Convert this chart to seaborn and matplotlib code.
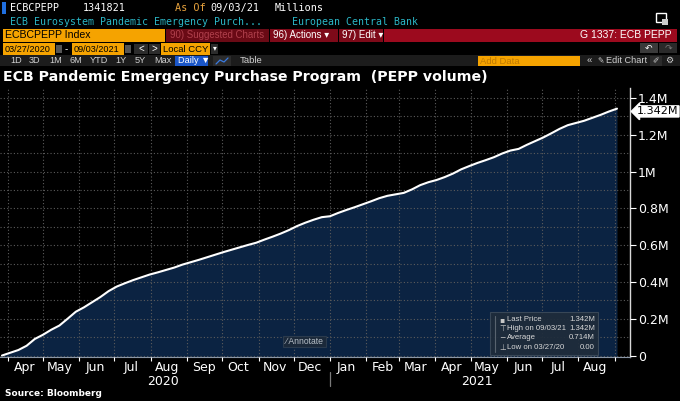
import numpy as np
import pandas as pd
import matplotlib
matplotlib.use("Agg")
import matplotlib.pyplot as plt
import matplotlib.dates as mdates
import matplotlib.transforms as mtransforms
from matplotlib.patches import Rectangle
from matplotlib.ticker import MultipleLocator, NullFormatter
import seaborn as sns

# ---------------------------------------------------------------------------
#  data : weekly PEPP holdings (EUR millions), Fridays 27/03/2020 -> 03/09/2021
# ---------------------------------------------------------------------------
start_date = "2020-03-27"
end_date = "2021-09-03"
pepp_volume = [
    0, 15000, 30000, 53000, 90000, 113000, 140000, 163000, 200000, 238000,
    262000, 290000, 318000, 350000, 375000, 393000, 410000, 425000, 440000, 452000,
    465000, 478000, 494000, 507000, 520000, 534000, 548000, 562000, 575000, 588000,
    601000, 613000, 630000, 646000, 663000, 682000, 704000, 722000, 738000, 752000,
    757000, 775000, 791000, 806000, 822000, 838000, 855000, 868000, 876000, 884000,
    903000, 926000, 942000, 954000, 970000, 989000, 1012000, 1030000, 1047000, 1062000,
    1078000, 1098000, 1114000, 1123000, 1145000, 1165000, 1185000, 1208000, 1232000, 1252000,
    1264000, 1276000, 1292000, 1308000, 1326000, 1341821,
]
y_ticks = [0, 200000, 400000, 600000, 800000, 1000000, 1200000, 1400000]
y_labels = ["0", "0.2M", "0.4M", "0.6M", "0.8M", "1M", "1.2M", "1.4M"]
year_labels = ["2020", "2021"]
last_label = "1.342M"
legend_names = ["Last Price", "High on 09/03/21", "Average", "Low on 03/27/20"]
legend_values = ["1.342M", "1.342M", "0.714M", "0.00"]
legend_marks = ["\u25aa", "\u22a4", "\u2212", "\u22a5"]

dates = pd.date_range(start_date, end_date, freq="W-FRI")
df = pd.DataFrame({"date": dates, "pepp": pepp_volume})

NAVY = "#0b2342"
ORANGE = "#f5a300"
RED = "#9c0a1e"
NARROW = ["Liberation Sans Narrow", "Liberation Sans", "DejaVu Sans"]
MONO = ["DejaVu Sans Mono"]

sns.set_theme(style="dark", rc={"axes.facecolor": "black", "figure.facecolor": "black"})
plt.rcParams["font.family"] = ["DejaVu Sans"]

fig = plt.figure(figsize=(6.8, 4.01), dpi=100)

# ---------------------------------------------------------------------------
#  main chart
# ---------------------------------------------------------------------------
ax = fig.add_axes([0.0, 44 / 401, 630 / 680, 269 / 401])
ax.set_facecolor("black")
ymin, ymax = -8000, 1454000
ax.fill_between(df["date"], df["pepp"], ymin, color=NAVY, lw=0, zorder=1)
sns.lineplot(data=df, x="date", y="pepp", ax=ax, color="white", lw=1.5, zorder=3)

x0 = mdates.date2num(pd.Timestamp(start_date)) - 1.7
x1 = mdates.date2num(pd.Timestamp(end_date)) + 11.1
ax.set_xlim(x0, x1)
ax.set_ylim(ymin, ymax)
ax.set_xlabel("")
ax.set_ylabel("")

# y axis on the right
ax.yaxis.tick_right()
ax.set_yticks(y_ticks)
ax.set_yticklabels(y_labels)
ax.yaxis.set_minor_locator(MultipleLocator(100000))
ax.tick_params(axis="y", which="major", colors="white", length=4, width=0.8,
               labelsize=9, pad=1.5, direction="out", right=True, left=False)
ax.tick_params(axis="y", which="minor", length=0)

# x axis: ticks at month starts, labels mid month
ax.xaxis.set_major_locator(mdates.MonthLocator())
ax.xaxis.set_major_formatter(NullFormatter())
ax.xaxis.set_minor_locator(mdates.MonthLocator(bymonthday=15))
ax.xaxis.set_minor_formatter(mdates.DateFormatter("%b"))
ax.tick_params(axis="x", which="major", colors="white", length=3, width=0.8, bottom=True)
ax.tick_params(axis="x", which="minor", length=0, labelsize=9, labelcolor="white", pad=3)

ax.grid(True, which="both", axis="y", color="#5c5c5c", ls=(0, (1, 2)), lw=0.8, zorder=2)
ax.grid(True, which="major", axis="x", color="#5c5c5c", ls=(0, (1, 2)), lw=0.8, zorder=2)
ax.set_axisbelow(False)

for side in ["left", "top"]:
    ax.spines[side].set_visible(False)
ax.spines["right"].set_color("#d8d8d8")
ax.spines["right"].set_linewidth(1.0)
ax.spines["bottom"].set_color("#8a96a6")
ax.spines["bottom"].set_linewidth(0.8)

# year labels + separator
trans = mtransforms.blended_transform_factory(ax.transData, ax.transAxes)
jan1 = mdates.date2num(pd.Timestamp("2021-01-01"))
ax.text((x0 + jan1) / 2 - 2, -0.09, year_labels[0], transform=trans, color="white",
        fontsize=9, ha="center", va="center")
ax.text((jan1 + x1) / 2 - 3, -0.09, year_labels[1], transform=trans, color="white",
        fontsize=9, ha="center", va="center")
ax.plot([jan1, jan1], [-0.055, -0.108], transform=trans, color="#7a7a7a", lw=0.9, clip_on=False)

# last value tag
ax.annotate(last_label, xy=(1.0, df["pepp"].iloc[-1]), xycoords=("axes fraction", "data"),
            xytext=(5, -2), textcoords="offset points", va="center", ha="left",
            fontsize=8, color="black", annotation_clip=False,
            bbox=dict(boxstyle="larrow,pad=0.05", fc="white", ec="white"))

# ---------------------------------------------------------------------------
#  overlay in pixel coordinates : terminal header, legend box, footer
# ---------------------------------------------------------------------------
ov = fig.add_axes([0, 0, 1, 1], zorder=5)
ov.set_xlim(0, 680)
ov.set_ylim(401, 0)
ov.axis("off")
ov.patch.set_alpha(0)


def rect(xa, ya, xb, yb, fc, ec="none", alpha=1.0, lw=0.8):
    ov.add_patch(Rectangle((xa, ya), xb - xa, yb - ya, fc=fc, ec=ec, alpha=alpha, lw=lw))


def txt(x, y, s, color="white", size=8, family=None, **kw):
    ov.text(x, y, s, color=color, fontsize=size, va="center",
            family=family if family else NARROW, **kw)


# row 1
rect(2, 2, 6, 14, "#1f6fe0")
txt(10, 8, "ECBCPEPP", size=7.3, family=MONO)
txt(83, 8, "1341821", size=7.3, family=MONO)
txt(175, 8, "As Of", color="#e8a33d", size=7.3, family=MONO)
txt(210, 8, "09/03/21", size=7.3, family=MONO)
txt(275, 8, "Millions", size=7.3, family=MONO)
# row 2
txt(10, 22, "ECB Eurosystem Pandemic Emergency Purch...", color="#2bb8c8", size=7.1, family=MONO)
txt(292, 22, "European Central Bank", color="#2bb8c8", size=7.1, family=MONO)
rect(656, 13, 666, 22, "none", ec="white", lw=1.0)
rect(662, 19, 668, 25, "#cccccc")
# row 3
rect(3, 29, 165, 42, ORANGE)
txt(5, 35.5, "ECBCPEPP Index", color="black", size=7.6)
rect(166, 29, 269, 42, "#6a0a15")
txt(170, 35.5, "90) Suggested Charts", color="#b0404c", size=6.9)
rect(270, 29, 338, 42, "#7e0a19")
txt(273, 35.5, "96) Actions \u25be", size=7)
rect(339, 29, 383, 42, "#7e0a19")
txt(342, 35.5, "97) Edit \u25be", size=7)
rect(384, 29, 677, 42, RED)
txt(671, 35.5, "G 1337: ECB PEPP", size=7.5, ha="right")
# row 4
rect(3, 43, 55, 55, ORANGE)
txt(5, 49, "03/27/2020", color="black", size=6.6)
rect(56, 45, 62, 53, "#555555")
txt(65, 49, "-", size=7)
rect(72, 43, 124, 55, ORANGE)
txt(74, 49, "09/03/2021", color="black", size=6.6)
rect(125, 45, 131, 53, "#555555")
rect(134, 44, 148, 54, "#2c2c2c")
txt(141, 49, "<", size=7, ha="center")
rect(149, 44, 160, 54, "#2c2c2c")
txt(154.5, 49, ">", size=7, ha="center")
rect(161, 43, 210, 55, ORANGE)
txt(163, 49, "Local CCY", color="black", size=6.8)
rect(211, 44, 218, 54, "#2c2c2c")
txt(214.5, 49, "\u25be", size=5.5, ha="center")
rect(640, 43, 658, 53, "#3a3a3a")
txt(649, 48, "\u21b6", size=6.5, ha="center", family=["DejaVu Sans"])
rect(659, 43, 677, 53, "#2a2a2a")
txt(668, 48, "\u21b7", color="#777777", size=6.5, ha="center", family=["DejaVu Sans"])
# row 5
rect(0, 55, 680, 66, "#1c1c1c")
for xp, lab in zip([10, 29, 49, 69, 90, 115, 135, 154],
                   ["1D", "3D", "1M", "6M", "YTD", "1Y", "5Y", "Max"]):
    txt(xp, 60.5, lab, color="#d0d0d0", size=6.6)
rect(175, 56, 208, 66, "#1a56c8")
txt(178, 60.5, "Daily \u25bc", size=6.6)
rect(213, 56, 231, 66, "#2c2c2c")
ov.plot([216, 220, 224, 228], [64, 60, 62, 58], color="#3a7ae0", lw=0.9)
txt(240, 60.5, "Table", color="#d0d0d0", size=6.8)
rect(478, 56, 580, 66, ORANGE)
txt(480, 61, "Add Data", color="#c07a00", size=6.8)
txt(587, 60.5, "\u00ab", color="#d0d0d0", size=6.8)
txt(597, 60.5, "\u270e", color="#d0d0d0", size=5.5, family=["DejaVu Sans"])
txt(606, 60.5, "Edit Chart", color="#d0d0d0", size=6.6)
rect(650, 56, 662, 66, "#2c2c2c")
txt(652, 60.5, "\u2710", color="#d0d0d0", size=5.5, family=["DejaVu Sans"])
txt(665, 60.5, "\u2699", color="#d0d0d0", size=6.5, family=["DejaVu Sans"])

# title
ov.text(3, 77, "ECB Pandemic Emergency Purchase Program  (PEPP volume)", color="white",
        fontsize=10.2, fontweight="bold", va="center", family=["DejaVu Sans"])

# annotate button
rect(283, 336, 326, 347, "#1c2a3a", ec="#2c3c4e", alpha=0.95)
txt(286, 341.5, "\u2215 Annotate", color="#b8c0c8", size=6.2)

# legend box
rect(490, 312, 598, 355, "#1f2c3b", ec="#3c4a5a", alpha=0.92)
ov.plot([495, 495], [316, 352], color="#58636f", lw=0.8)
for i, (mk, nm, val) in enumerate(zip(legend_marks, legend_names, legend_values)):
    yy = 319.5 + i * 9.2
    txt(499, yy, mk, color="#c8c8c8", size=5.5, family=["DejaVu Sans"])
    txt(507, yy, nm, color="#d8d8d8", size=5.6)
    txt(595, yy, val, color="#d8d8d8", size=5.6, ha="right")

# footer
ov.text(5, 393, "Source: Bloomberg", color="white", fontsize=6.5, fontweight="bold",
        va="center", family=["DejaVu Sans"])

fig.savefig("out.png", dpi=100, facecolor="black")
